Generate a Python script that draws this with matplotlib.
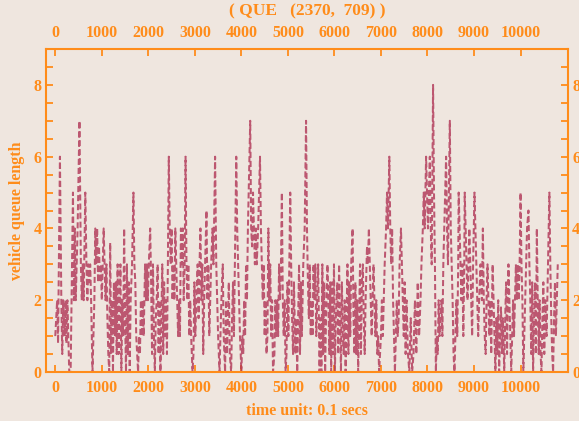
import matplotlib.pyplot as plt
from matplotlib.ticker import MultipleLocator

# queue length turning points (time in 0.1 s units, vehicles waiting)
times = [
    0, 20, 40, 60, 100, 130, 150, 170, 200, 220, 240, 260,
    280, 300, 330, 360, 380, 400, 420, 440, 460, 480, 520, 550,
    570, 590, 610, 645, 670, 690, 710, 730, 750, 770, 800,
    820, 840, 860, 880, 900, 920, 940, 960, 980, 1000, 1020, 1040,
    1060, 1080, 1100, 1120, 1140, 1160, 1180, 1200, 1220, 1240, 1260, 1280,
    1300, 1320, 1340, 1360, 1380, 1400, 1420, 1440, 1460, 1480, 1500, 1520,
    1540, 1560, 1580, 1600, 1620, 1650, 1680, 1700, 1720, 1740, 1760, 1780,
    1800, 1820, 1840, 1860, 1880, 1900, 1930, 1950, 1970, 1990, 2010, 2040,
    2060, 2080, 2100, 2120, 2140, 2160, 2180, 2200, 2220, 2240, 2260, 2280,
    2300, 2320, 2340, 2360, 2380, 2400, 2420, 2440, 2460, 2480, 2500, 2520,
    2540, 2560, 2580, 2600, 2620, 2640, 2660, 2680, 2700,
    2720, 2740, 2760, 2780, 2800, 2820, 2840, 2860, 2880, 2900, 2920, 2950,
    2970, 2990, 3010, 3030, 3060, 3080, 3100, 3120, 3140, 3160, 3180, 3200,
    3220, 3250, 3270, 3290, 3310, 3330, 3350, 3380, 3400, 3435, 3460, 3480,
    3500, 3530, 3550, 3570, 3600, 3620,
    3650, 3670, 3690, 3710, 3730, 3750, 3780, 3800, 3820, 3840, 3860, 3890,
    3910, 3930, 3950, 3970, 4000, 4020, 4040, 4060, 4080, 4100, 4120, 4140,
    4190, 4210, 4230, 4250, 4270, 4290, 4310, 4330, 4360, 4400, 4420, 4440,
    4460, 4480, 4500, 4520, 4540, 4560, 4580, 4600, 4620, 4640, 4660, 4680, 4710,
    4730, 4750, 4770, 4790, 4810, 4830, 4850, 4870, 4890, 4910, 4930, 4950,
    4970, 4990, 5010, 5030, 5050, 5070, 5090, 5110, 5130, 5160, 5180, 5200,
    5220, 5240, 5260, 5280, 5300, 5330, 5360, 5390, 5410, 5430, 5450, 5470,
    5490, 5510, 5530, 5550, 5570, 5590, 5610, 5630, 5650, 5680,
    5700, 5720, 5740, 5760, 5780, 5800, 5820, 5850, 5870, 5890, 5910, 5930,
    5950, 5970, 5990, 6010, 6030, 6060, 6080, 6100, 6120, 6140, 6160, 6180,
    6200, 6220, 6240, 6260, 6280, 6300, 6320, 6340, 6360, 6390, 6410, 6430,
    6450, 6470, 6490, 6510, 6530, 6550, 6570, 6590, 6610, 6630, 6650, 6670,
    6700, 6720, 6740, 6760, 6780, 6800, 6820, 6840, 6860, 6880, 6900, 6920, 6940, 6960,
    7000, 7020, 7040, 7060, 7080, 7110, 7130, 7150, 7180, 7200, 7220, 7240,
    7260, 7280, 7300, 7320, 7340, 7360, 7380, 7400, 7430, 7450, 7470, 7490,
    7510, 7530, 7550, 7580, 7610, 7640, 7670, 7700, 7730, 7760, 7790, 7820,
    7850, 7870, 7900, 7920, 7940, 7970, 7990, 8010, 8030, 8050, 8070, 8090,
    8120, 8140, 8160, 8180, 8200, 8220, 8240, 8260, 8280, 8300, 8320, 8340, 8360, 8380, 8400,
    8420, 8440, 8460, 8480, 8500, 8520, 8540, 8560, 8580, 8600, 8620, 8640,
    8660, 8670, 8690, 8710, 8730, 8750, 8770, 8790, 8800, 8820, 8840, 8860,
    8880, 8900, 8920, 8940, 8960, 8980, 9010, 9030, 9050, 9070, 9090, 9110,
    9140, 9170, 9190, 9210, 9230, 9250, 9270, 9290, 9310, 9330, 9350, 9370, 9400, 9420, 9440, 9460,
    9480, 9500, 9520, 9540, 9560, 9580, 9600, 9620, 9650, 9670, 9690, 9710,
    9740, 9760, 9780, 9800, 9820, 9840, 9860, 9880, 9900, 9920, 9940, 9960,
    9980, 10000, 10020, 10040, 10060, 10080, 10100, 10120, 10140, 10170, 10190, 10210,
    10230, 10250, 10270, 10290, 10310, 10330, 10350, 10370, 10390, 10410, 10430, 10450,
    10470, 10490, 10510, 10530, 10560, 10590, 10620, 10640, 10660, 10680, 10700, 10720, 10740, 10760, 10780, 10800,
]
queue = [
    1, 1.5, 2, 0.8, 6, 2, 0.5, 2, 1, 2, 0.8, 2,
    1, 0, 0, 3, 5, 2, 4, 2, 3, 4, 7, 3,
    2, 3, 2, 5, 3, 2, 3, 2.5, 3, 2, 0,
    1, 2, 4, 3, 4, 2.5, 3.5, 2.5, 3, 2, 3, 4,
    3, 2, 3, 1.5, 0.5, 0, 3.6, 0.5, 2, 0, 2.5, 1,
    2.5, 0.5, 3, 0.5, 1.5, 3, 0, 2, 1, 4, 1.5, 0,
    3, 0.5, 2.5, 0, 2, 3, 5, 3, 2.5, 1, 0.5, 0,
    1, 0.5, 2, 1, 2, 1, 3, 2, 3, 2, 3, 4,
    2.5, 0.5, 3, 1, 0, 1.5, 2, 3, 0.5, 2, 0, 1.5,
    3, 0.5, 2.5, 1, 2, 0.5, 3, 6, 4, 3, 4, 2,
    3, 2, 4, 3, 2, 1, 2, 1, 4,
    3, 4, 2, 3, 6, 3, 2, 3, 1, 2, 1, 0,
    0.5, 2.5, 1, 2, 3, 1.5, 3, 4, 2, 3, 0.5, 2,
    3, 4.5, 2, 3, 1, 2, 3, 4, 3, 6, 3, 2,
    1, 0, 1, 2, 3, 1,
    0, 2, 0.5, 1.5, 2.5, 0.5, 0, 1.5, 2.5, 1, 3, 6,
    4, 3, 2, 1, 0, 1, 0.5, 2, 1, 3, 2, 4,
    7, 4, 3.5, 5, 4, 3, 4, 3, 4, 6, 4, 3,
    2, 3, 1, 2, 0.5, 1, 4, 2, 3, 1, 2, 0, 0.5,
    2, 1, 2, 1, 3, 2, 3, 5, 2, 1, 2, 0,
    0.5, 2.5, 1, 3, 5, 3, 1.5, 0.5, 2.5, 0.5, 1.5, 0,
    1.5, 3, 0.5, 2.5, 1, 3, 4, 7, 4, 2.5, 1.5, 3,
    1, 2, 1, 3, 2, 3, 1, 2, 3, 0,
    1.5, 0, 3, 0.5, 2.5, 0, 1.5, 3, 2, 0.5, 2.5, 0,
    2.5, 0.5, 3, 0, 1.5, 2.5, 0.5, 3, 1.5, 0, 2.5, 1,
    0.5, 2, 0, 1.5, 3, 0.5, 2.5, 1, 3, 4, 1.5, 0.5,
    2.5, 0.5, 2, 0, 1.5, 3, 0.5, 2.5, 3, 1.5, 0.5, 2,
    3.5, 3, 4, 3, 2, 1, 2, 3, 2, 1, 2, 0.5, 1, 0,
    1, 2, 1, 2, 3, 4, 5, 4, 6, 4, 3, 4,
    2, 1, 0, 1, 2, 1, 1.5, 3, 4, 3, 2, 1,
    2.5, 0.5, 2, 0.5, 0, 1.5, 0, 0.5, 2, 0.5, 2.5, 1,
    2, 3, 4, 5, 4, 6, 5, 4, 5, 6, 4, 3,
    8, 5, 3, 0, 1, 0.5, 2, 1, 1.5, 2, 1, 3, 4, 5, 6,
    4, 3, 5, 7, 4, 3, 2, 0.5, 0, 1, 2, 1,
    3, 5, 4, 3, 2, 3, 1, 3, 5, 4, 3, 2,
    3, 4, 3, 2, 1, 3, 5, 4, 3, 2, 1, 2,
    3, 2, 4, 2, 1, 0.5, 2, 3, 2, 1, 2, 0.5, 3, 2, 1, 0,
    1.5, 0.5, 2, 0, 1, 1.8, 0.5, 1.5, 0, 1.5, 2.5, 0.5,
    3, 2, 1, 0, 1, 2, 1, 2, 3, 2, 3, 2,
    3, 5, 3, 2, 0, 1, 2, 3, 4, 4.5, 3, 2,
    0.5, 2.5, 0, 1.5, 2.5, 0.5, 4, 2, 0.5, 2, 0.5, 0,
    1.5, 2.5, 0.5, 2, 1, 3, 5, 3, 1.5, 0.5, 0, 1.5, 2.5, 1, 2, 3,
]

x_ticks = list(range(0, 10001, 1000))
y_ticks = [0, 2, 4, 6, 8]

orange = '#ff8c1a'
bg = '#efe6df'
serif = ['Liberation Serif', 'DejaVu Serif']

fig = plt.figure(figsize=(5.79, 4.21), dpi=100, facecolor=bg)
ax = fig.add_axes([0.0794, 0.1164, 0.9016, 0.7672], facecolor=bg)

ax.plot(times, queue, color='#b03355', alpha=0.8, linewidth=1.45,
        linestyle=(0, (3.0, 1.5)))

ax.set_xlim(-200, 11020)
ax.set_ylim(0, 9)
ax.set_xticks(x_ticks)
ax.set_yticks(y_ticks)
ax.yaxis.set_minor_locator(MultipleLocator(0.5))

for side in ax.spines.values():
    side.set_color(orange)
    side.set_linewidth(1.5)

ax.tick_params(axis='both', which='both', direction='in', colors=orange,
               length=5, width=1.3, top=True, right=True,
               labeltop=True, labelright=True, pad=6)
ax.tick_params(axis='y', which='major', pad=3)

# style the tick labels on all four sides
for t in ax.xaxis.get_major_ticks() + ax.yaxis.get_major_ticks():
    for lab in (t.label1, t.label2):
        lab.set_fontfamily(serif)
        lab.set_fontweight('bold')
        lab.set_fontsize(11.5)

ax.set_title('( QUE   (2370,  709) )', color=orange, family=serif,
             fontweight='bold', fontsize=12.5, pad=24)
ax.set_xlabel('time unit: 0.1 secs', color=orange, family=serif,
              fontweight='bold', fontsize=11.5, labelpad=5)
ax.set_ylabel('vehicle queue length', color=orange, family=serif,
              fontweight='bold', fontsize=11.5, labelpad=6)

fig.savefig('out.png', dpi=100, facecolor=bg)
